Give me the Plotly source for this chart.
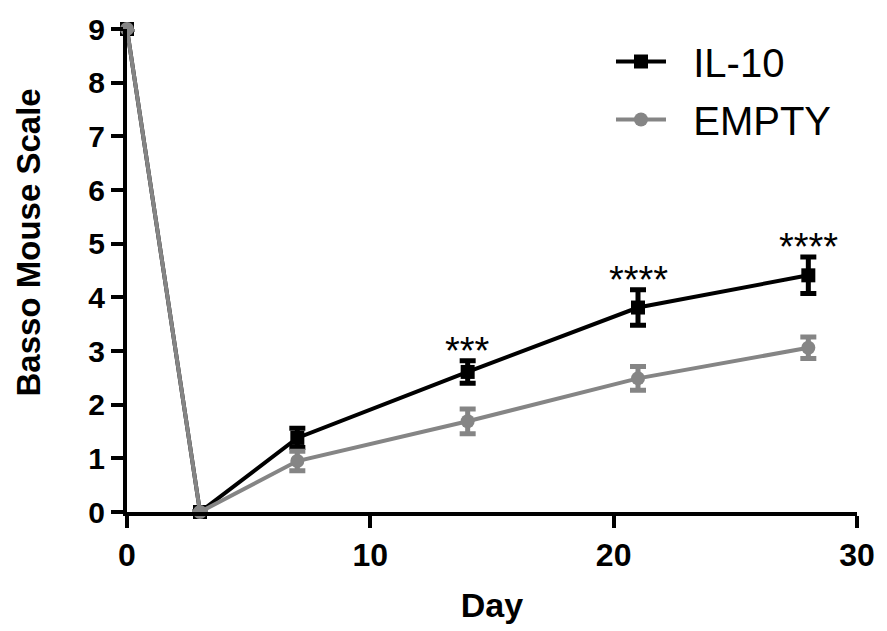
import plotly.graph_objects as go

days = [0, 3, 7, 14, 21, 28]
il10_mean = [9, 0, 1.38, 2.61, 3.81, 4.41]
il10_err = [0, 0, 0.18, 0.21, 0.33, 0.34]
empty_mean = [9, 0, 0.95, 1.69, 2.49, 3.06]
empty_err = [0, 0, 0.18, 0.23, 0.22, 0.2]

sig_days = [14, 21, 28]
sig_labels = ["***", "****", "****"]

x_ticks = [0, 10, 20, 30]
y_ticks = [0, 1, 2, 3, 4, 5, 6, 7, 8, 9]

BLACK = "#000000"
GREY = "#858585"
FAM = "Liberation Sans, Arial"
y_tick_font = dict(family=FAM, size=30, color="black", weight="bold")
x_tick_font = dict(family=FAM, size=32, color="black", weight="bold")
PAD = "&nbsp;&nbsp;"

fig = go.Figure()
fig.add_trace(go.Scatter(
    x=days, y=il10_mean, name=PAD + "IL-10", mode="lines+markers", legendgroup="a",
    line=dict(color=BLACK, width=4),
    marker=dict(symbol="square", size=14, color=BLACK),
    error_y=dict(type="data", array=il10_err, color=BLACK, thickness=5, width=8),
    cliponaxis=False,
))
fig.add_trace(go.Scatter(
    x=days, y=empty_mean, name=PAD + "EMPTY", mode="lines+markers", legendgroup="b",
    line=dict(color=GREY, width=4),
    marker=dict(symbol="circle", size=14, color=GREY),
    error_y=dict(type="data", array=empty_err, color=GREY, thickness=5, width=8),
    cliponaxis=False,
))

lookup = dict(zip(days, zip(il10_mean, il10_err)))
for d, lab in zip(sig_days, sig_labels):
    m, e = lookup[d]
    fig.add_annotation(x=d, y=m + e, text=lab, showarrow=False, yanchor="bottom",
                       yshift=-13, font=dict(family=FAM, size=38, color="black"))

# y-axis title placed as rotated text
fig.add_annotation(xref="paper", yref="paper", x=0, y=0.558, xshift=-99,
                   text="Basso Mouse Scale", textangle=-90, showarrow=False,
                   xanchor="center", yanchor="middle",
                   font=dict(family=FAM, size=33, color="black", weight="bold"))

fig.update_layout(
    width=887, height=631,
    margin=dict(l=127, r=24, t=24, b=118),
    paper_bgcolor="white", plot_bgcolor="white",
    showlegend=True,
    legend=dict(x=0.663, y=1.0, xanchor="left", yanchor="top",
                font=dict(family=FAM, size=40, color="black"),
                bgcolor="rgba(0,0,0,0)", itemwidth=50, tracegroupgap=3),
)
fig.update_xaxes(
    range=[0, 30], tickvals=x_ticks, ticks="outside", ticklen=12, tickwidth=4, tickcolor="black",
    showline=True, linewidth=4, linecolor="black", showgrid=False, zeroline=False,
    tickfont=x_tick_font,
    title=dict(text="Day", font=dict(family=FAM, size=34, color="black", weight="bold"), standoff=22),
)
fig.update_yaxes(
    range=[0, 9], tickvals=y_ticks, ticks="outside", ticklen=12, tickwidth=4, tickcolor="black",
    showline=True, linewidth=4, linecolor="black", showgrid=False, zeroline=False,
    tickfont=y_tick_font,
)

fig.write_html("out.html", config={"displayModeBar": False},
               post_script="document.body.style.margin='0';")
